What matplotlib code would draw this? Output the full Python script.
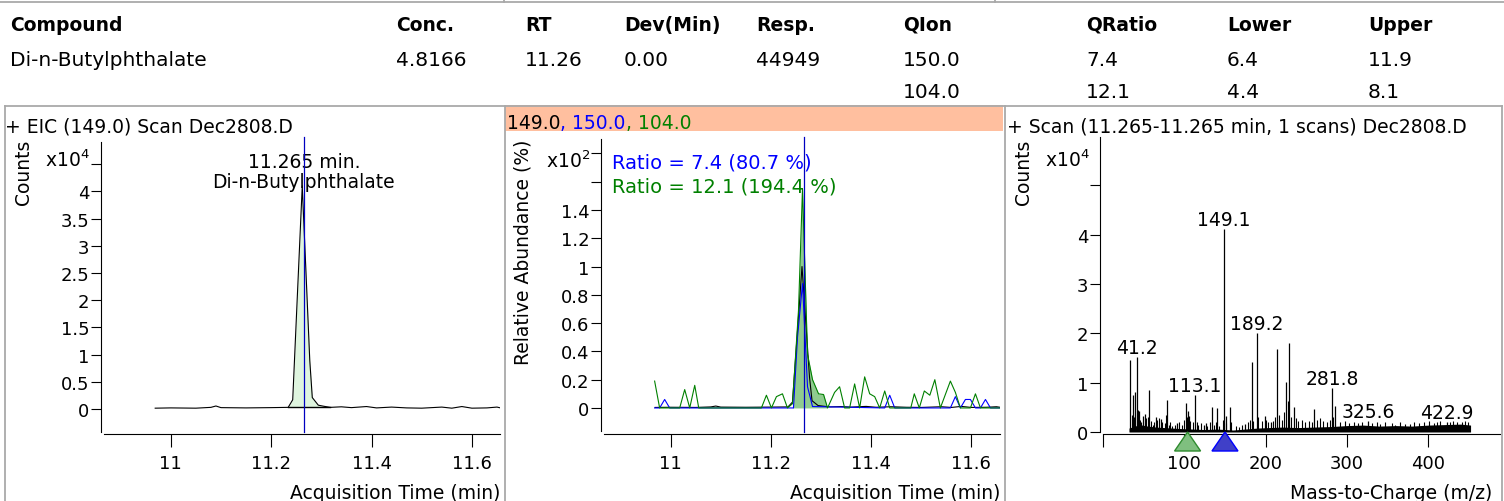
import matplotlib
matplotlib.use("Agg")
import matplotlib.pyplot as plt
import matplotlib.transforms as mtransforms
from matplotlib.patches import Polygon, Rectangle
from matplotlib.lines import Line2D
import numpy as np

W, H = 1504, 502

# quant results table
table_cols = ["Compound", "Conc.", "RT", "Dev(Min)", "Resp.", "QIon", "QRatio", "Lower", "Upper"]
table_row1 = ["Di-n-Butylphthalate", "4.8166", "11.26", "0.00", "44949", "150.0", "7.4", "6.4", "11.9"]
table_row2 = ["", "", "", "", "", "104.0", "12.1", "4.4", "8.1"]
table_x = [10, 396, 525, 624, 756, 903, 1086, 1227, 1368]

compound = "Di-n-Butylphthalate"
rt_apex = 11.265
data_file = "Dec2808.D"
target_ion = 149.0
qual_ions = [150.0, 104.0]
qual_ratio = [7.4, 12.1]
qual_rel = [80.7, 194.4]

# EIC of the target ion (counts)
eic_time = [10.969, 11.00, 11.05, 11.08, 11.09, 11.10, 11.15, 11.20, 11.234, 11.243,
            11.262, 11.277, 11.282, 11.294, 11.305, 11.318, 11.34, 11.36, 11.39, 11.41,
            11.44, 11.47, 11.50, 11.54, 11.56, 11.58, 11.60, 11.63, 11.65, 11.657]
eic_counts = [150, 200, 150, 300, 550, 250, 200, 250, 300, 1700,
              41000, 8900, 2100, 700, 500, 300, 400, 250, 450, 200,
              350, 200, 150, 350, 150, 450, 150, 200, 350, 200]
integ_start, integ_end = 11.234, 11.318

# qualifier traces, % of expected ratio
q150_time = [10.968, 10.978, 10.988, 10.998, 11.245, 11.253, 11.263, 11.273, 11.283,
             11.427, 11.437, 11.447, 11.558, 11.568, 11.578, 11.588, 11.598, 11.608,
             11.618, 11.628, 11.638, 11.657]
q150_pct = [0, 0, 6, 0, 0, 50, 88, 15, 1,
            0, 9, 0, 0, 8, 0, 6, 6, 0,
            0, 6, 0, 0]
q104_time = [10.968, 10.978, 11.018, 11.028, 11.038, 11.048, 11.056, 11.181, 11.191, 11.201,
             11.211, 11.223, 11.233, 11.243, 11.255, 11.263, 11.273, 11.283, 11.295, 11.305,
             11.313, 11.327, 11.337, 11.347, 11.357, 11.367, 11.377, 11.387, 11.397, 11.407,
             11.417, 11.427, 11.437, 11.479, 11.486, 11.496, 11.506, 11.517, 11.527, 11.538,
             11.558, 11.568, 11.578, 11.598, 11.608, 11.618, 11.657]
q104_pct = [19, 0, 0, 13, 0, 16, 0, 0, 9, 0,
            8, 10, 0, 3, 69, 155, 38, 20, 10, 9.5,
            0, 11, 15, 0, 0, 17, 0, 22, 10, 8,
            0, 12, 0, 0, 10, 0, 12, 9, 20, 0,
            19, 11, 0, 0, 10, 0, 0]
q104_fill = (11.243, 11.313)

# mass spectrum at the apex scan
spec_mz = [33.3, 37.4, 39.4, 41.2, 44.3, 49.7, 51.3, 57.0, 65.1, 70.9, 78.3, 91.4,
           101.6, 104.4, 105.8, 113.1, 124.1, 127.0, 133.9, 140.5, 149.1, 150.7, 155.6,
           175.2, 183.4, 189.2, 199.4, 206.3, 214.2, 225.2, 228.9, 234.5, 259.1, 281.8,
           285.7, 325.6, 422.9]
spec_counts = [14500, 7400, 8200, 15200, 4300, 3300, 3600, 8600, 3000, 2600, 6400, 1900,
               5900, 4300, 3300, 7400, 1500, 1800, 5000, 4800, 41200, 3300, 5000,
               1600, 14100, 20000, 3200, 2000, 16800, 10100, 18100, 5000, 4700, 8900,
               5300, 2300, 2000]
bg_mz = [36, 38, 43, 46, 47, 53, 55, 59, 61, 63, 67, 69, 73, 76, 77, 81, 83, 85, 89, 93,
         97, 99, 103, 107, 111, 115, 117, 121, 128, 131, 136, 139, 143, 147, 151, 157, 163,
         167, 171, 178, 181, 185, 191, 195, 201, 203, 209, 211, 217, 220, 223, 227, 231, 237,
         240, 245, 249, 253, 257, 263, 267, 270, 275, 279, 283, 291, 297, 303, 309, 313, 319,
         331, 337, 341, 347, 355, 359, 365, 371, 377, 383, 389, 395, 401, 407, 411, 415, 427,
         431, 435, 441, 445, 449]
bg_counts = [3500, 3000, 4500, 2500, 2000, 2800, 3000, 2200, 1500, 2000, 2500, 2800, 2000,
             1800, 3500, 1500, 2000, 1200, 1400, 2000, 1500, 2500, 3000, 2200, 2000, 2000,
             1500, 1800, 1200, 2000, 1500, 2000, 1200, 2500, 1800, 2000, 1200, 1000, 1500,
             2000, 2500, 2200, 3000, 2200, 2500, 2000, 2200, 3000, 3500, 2500, 4000, 6200,
             3000, 2800, 2200, 2500, 2000, 2200, 2000, 2500, 2800, 2200, 2000, 2500, 3000,
             2000, 2200, 1800, 2000, 1800, 2000, 1800, 2000, 1600, 2000, 1800, 1500, 2000,
             1700, 1600, 2000, 1800, 2000, 2200, 1800, 2000, 2200, 2000, 2200, 2000, 2100,
             2300, 2000]
floor_mz = [32, 45, 55, 65, 75, 85, 95, 110, 125, 140, 160, 175, 190, 205, 220, 240,
            260, 280, 300, 320, 340, 360, 380, 400, 420, 440, 452]
floor_counts = [800, 1500, 1200, 1000, 900, 800, 700, 600, 500, 600, 400, 600, 800, 900,
                1000, 900, 1000, 1100, 1300, 1400, 1200, 1300, 1200, 1400, 1500, 1600, 1400]
spec_labels = [41.2, 113.1, 149.1, 189.2, 281.8, 325.6, 422.9]

BLUE = "#0000ff"
GREEN = "#008000"
FRAME = "#a9a9a9"
PT = 0.72  # points per pixel at 100 dpi

plt.rcParams["font.family"] = "DejaVu Sans"
plt.rcParams["font.size"] = 13

fig = plt.figure(figsize=(W / 100, H / 100), dpi=100, facecolor="white")


def fig_line(x0, y0, x1, y1, lw=1.3):
    fig.add_artist(Line2D([x0 / W, x1 / W], [1 - y0 / H, 1 - y1 / H],
                          transform=fig.transFigure, color=FRAME, lw=lw))


def fig_text(x, y, s, **kw):
    return fig.text(x / W, 1 - y / H, s, **kw)


def panel_axes(left, top, right, bottom, out_left, out_bottom):
    ax = fig.add_axes([left / W, 1 - bottom / H, (right - left) / W, (bottom - top) / H])
    ax.patch.set_alpha(0)
    ax.spines["top"].set_visible(False)
    ax.spines["right"].set_visible(False)
    ax.spines["left"].set_position(("outward", out_left * PT))
    ax.spines["bottom"].set_position(("outward", out_bottom * PT))
    for s in ("left", "bottom"):
        ax.spines[s].set_linewidth(0.8)
    ax.tick_params(axis="y", direction="out", length=10 * PT, width=0.8, pad=1, labelsize=13)
    ax.tick_params(axis="x", direction="out", length=13 * PT, width=0.8, pad=5, labelsize=13)
    return ax


def fmt(v):
    return "%g" % round(v, 2)


# table and frame lines
fig_line(0, 2.5, W, 2.5)
fig_line(504, 0, 504, 3)
fig_line(995, 0, 995, 3)
for x, col in zip(table_x, table_cols):
    fig_text(x, 31, col, fontsize=13.5, fontweight="bold", va="baseline")
for x, v in zip(table_x, table_row1):
    fig_text(x, 65.7, v, fontsize=14.5, va="baseline")
for x, v in zip(table_x, table_row2):
    if v:
        fig_text(x, 98.3, v, fontsize=14.5, va="baseline")

fig_line(5, 107, 1502, 107)
for x in (5, 505, 1005, 1502):
    fig_line(x, 107, x, H + 2)

# ---- panel 1: EIC of target ion ----
ax1 = panel_axes(104, 143, 500, 433, 3, 2)
t = np.array(eic_time)
c = np.array(eic_counts) / 1e4
seg = (t >= integ_start) & (t <= integ_end)
base = c[seg][0]
ax1.fill_between(t[seg], base, c[seg], color="#dff5df", lw=0, zorder=1)
ax1.plot([integ_start, integ_end], [base, base], color="black", lw=1.0, zorder=2)
ax1.plot(t, c, color="black", lw=0.8, zorder=3)
ax1.axvline(rt_apex, ymin=0, ymax=1.017, color="#0000c0", lw=0.9, clip_on=False, zorder=4)
ax1.set_xlim(10.867, 11.656)
ax1.set_ylim(-0.423, 4.908)
ax1.set_xticks([11, 11.2, 11.4, 11.6])
ax1.set_xticklabels([fmt(v) for v in [11, 11.2, 11.4, 11.6]])
yt = [0, 0.5, 1, 1.5, 2, 2.5, 3, 3.5, 4, 4.5]
ax1.set_yticks(yt)
ax1.set_yticklabels([fmt(v) for v in yt[:-1]] + [""])
fig_text(5, 132.5, "+ EIC (%.1f) Scan %s" % (target_ion, data_file), fontsize=13.5, va="baseline")
fig_text(24, 140, "Counts", fontsize=13.5, rotation=90, ha="center", va="top")
fig_text(90, 167, r"x10$^4$", fontsize=13.5, ha="right", va="baseline")
fig_text(500, 499.5, "Acquisition Time (min)", fontsize=13.5, ha="right", va="baseline")
tr1 = mtransforms.blended_transform_factory(ax1.transData, fig.transFigure)
ax1.text(rt_apex, 1 - 168 / H, "%.3f min." % rt_apex, transform=tr1, ha="center",
         va="baseline", fontsize=13.5, zorder=2)
ax1.text(rt_apex, 1 - 188 / H, compound, transform=tr1, ha="center",
         va="baseline", fontsize=13.5, zorder=2)

# ---- panel 2: qualifier overlay ----
fig.add_artist(Rectangle((505 / W, 1 - 132 / H), (1003 - 505) / W, 26 / H,
                         transform=fig.transFigure, facecolor="#ffbf9f", edgecolor="none"))
# ion list in the header bar, each ion in its trace colour
renderer = fig.canvas.get_renderer()
piece = fig_text(507, 129.3, "%.1f" % target_ion, fontsize=13.5, va="baseline", color="black")
x_cur = piece.get_window_extent(renderer).x1
for ion, col in zip(qual_ions, [BLUE, GREEN]):
    piece = fig.text(x_cur / W, 1 - 129.3 / H, ", %.1f" % ion, fontsize=13.5, color=col,
                     ha="left", va="baseline")
    x_cur = piece.get_window_extent(renderer).x1

ax2 = panel_axes(604, 140, 1000, 432, 3, 3)
t4 = np.array(q104_time)
p4 = np.array(q104_pct) / 100
seg4 = (t4 >= q104_fill[0]) & (t4 <= q104_fill[1])
ax2.fill_between(t4[seg4], 0, p4[seg4], color="#8fcb8f", lw=0, zorder=1)
ax2.plot(t, c / c.max(), color="black", lw=0.8, zorder=2)
ax2.plot(q150_time, np.array(q150_pct) / 100, color=BLUE, lw=0.8, zorder=2.8)
ax2.plot(t4, p4, color=GREEN, lw=0.8, zorder=3)
ax2.axvline(rt_apex, ymin=-0.003, ymax=1.007, color="#0000c0", lw=0.9, clip_on=False, zorder=4)
ax2.set_xlim(10.867, 11.657)
ax2.set_ylim(-0.163, 1.902)
ax2.set_xticks([11, 11.2, 11.4, 11.6])
ax2.set_xticklabels([fmt(v) for v in [11, 11.2, 11.4, 11.6]])
yt2 = [0, 0.2, 0.4, 0.6, 0.8, 1.0, 1.2, 1.4, 1.6, 1.8]
ax2.set_yticks(yt2)
ax2.set_yticklabels([fmt(v) for v in yt2[:8]] + ["", ""])
fig_text(523, 140, "Relative Abundance (%)", fontsize=13.5, rotation=90, ha="center", va="top")
fig_text(590, 168, r"x10$^2$", fontsize=13.5, ha="right", va="baseline")
fig_text(1000, 499.5, "Acquisition Time (min)", fontsize=13.5, ha="right", va="baseline")
for i, (ratio, rel, col) in enumerate(zip(qual_ratio, qual_rel, [BLUE, GREEN])):
    fig_text(612, 168.3 + 24 * i, "Ratio = %.1f (%.1f %%)" % (ratio, rel), fontsize=14,
             color=col, va="baseline")

# ---- panel 3: spectrum ----
ax3 = panel_axes(1103, 138, 1500, 433, 3, 2)
ax3.fill_between(floor_mz, 0, np.array(floor_counts) / 1e4, color="black", lw=0, zorder=1)
ax3.vlines(bg_mz, 0, np.array(bg_counts) / 1e4, color="black", lw=0.8, zorder=2)
ax3.vlines(spec_mz, 0, np.array(spec_counts) / 1e4, color="black", lw=0.9, zorder=2)
for lab in spec_labels:
    k = spec_mz.index(lab)
    ax3.text(lab, spec_counts[k] / 1e4, "%.1f" % lab, ha="center", va="bottom",
             fontsize=13.5, zorder=3)
ax3.set_xlim(1.0, 488.2)
ax3.set_ylim(0, 5.98)
xt3 = [0, 100, 200, 300, 400]
ax3.set_xticks(xt3)
ax3.set_xticklabels([""] + [str(v) for v in xt3[1:]])
yt3 = [0, 1, 2, 3, 4, 5]
ax3.set_yticks(yt3)
ax3.set_yticklabels([str(v) for v in yt3[:-1]] + [""])
# qualifier ion markers under the m/z axis
tri_tr = mtransforms.blended_transform_factory(ax3.transData, ax3.transAxes)
tri_h = 19 / 295
for ion, fc, ec in zip(qual_ions, ["#4040c8", "#7fbf7f"], [BLUE, "#2e8b2e"]):
    ax3.add_patch(Polygon([(ion - 16, -tri_h), (ion + 16, -tri_h), (ion, 0)], closed=True,
                          transform=tri_tr, facecolor=fc, edgecolor=ec, lw=1,
                          clip_on=False, zorder=5))
fig_text(1007, 132.5, "+ Scan (%.3f-%.3f min, 1 scans) %s" % (rt_apex, rt_apex, data_file),
         fontsize=13.5, va="baseline")
fig_text(1023, 140, "Counts", fontsize=13.5, rotation=90, ha="center", va="top")
fig_text(1090, 167, r"x10$^4$", fontsize=13.5, ha="right", va="baseline")
fig_text(1492, 499.5, "Mass-to-Charge (m/z)", fontsize=13.5, ha="right", va="baseline")

fig.savefig("out.png", dpi=100, facecolor="white")
